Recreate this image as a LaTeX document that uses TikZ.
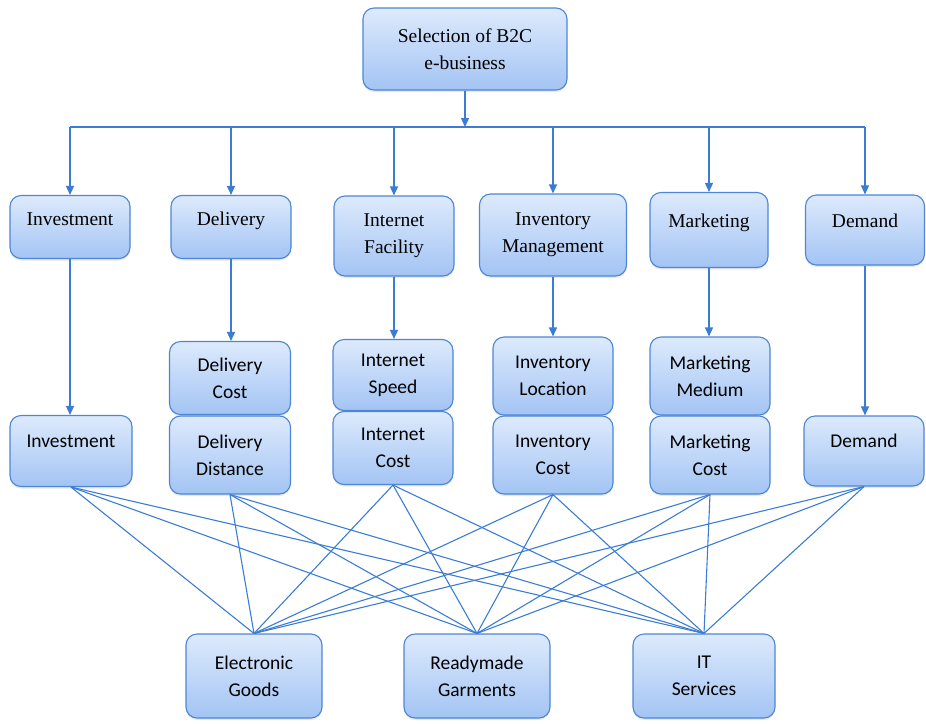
\documentclass[tikz,border=0pt]{standalone}
\usepackage{fontspec}
\setmainfont{Liberation Serif}
\newfontfamily\subfont{Carlito}
\usetikzlibrary{arrows.meta,shadows}
\definecolor{boxline}{HTML}{4D86D6}
\definecolor{boxtop}{HTML}{DDEAFC}
\definecolor{boxbot}{HTML}{A3C4F4}
\definecolor{conn}{HTML}{3B7DD3}
\tikzset{
  box/.style={draw=boxline, line width=1.1pt, rounded corners=11pt,
    top color=boxtop, bottom color=boxbot, align=center, inner sep=2pt,
    drop shadow={opacity=0.18, shadow xshift=0pt, shadow yshift=-2pt},
    font=\fontsize{19.5}{27}\selectfont},
  sbox/.style={box, font=\subfont\fontsize{19.5}{27}\selectfont},
  raised/.style={text height=13pt, text depth=#1},
  arr/.style={draw=conn, line width=1.3pt, -{Triangle[length=9pt,width=8pt]}},
  link/.style={draw=conn, line width=1.1pt},
}
\begin{document}
\begin{tikzpicture}[x=1pt,y=-1pt]
\useasboundingbox (0,0) rectangle (926,723);
% top
\node[box, minimum width=204pt, minimum height=82pt] (top) at (465,49) {Selection of B2C\\e-business};
% criteria
\node[box, raised=17pt, minimum width=120pt, minimum height=63pt] (c1) at (70,227) {Investment};
\node[box, raised=17pt, minimum width=120pt, minimum height=63pt] (c2) at (231,227) {Delivery};
\node[box, minimum width=120pt, minimum height=80pt] (c3) at (394,236) {Internet\\Facility};
\node[box, minimum width=147pt, minimum height=82pt] (c4) at (553,235) {Inventory\\Management};
\node[box, raised=19pt, minimum width=118pt, minimum height=75pt] (c5) at (709,230) {Marketing};
\node[box, raised=18pt, minimum width=119pt, minimum height=70pt] (c6) at (865,230) {Demand};
% sub criteria
\node[sbox, raised=20pt, minimum width=122pt, minimum height=71pt] (s1) at (71,451) {Investment};
\node[sbox, minimum width=121pt, minimum height=73pt] (s2a) at (230,378) {Delivery\\Cost};
\node[sbox, minimum width=121pt, minimum height=78pt] (s2) at (230,455) {Delivery\\Distance};
\node[sbox, minimum width=120pt, minimum height=71pt] (s3a) at (393,375) {Internet\\Speed};
\node[sbox, minimum width=120pt, minimum height=73pt] (s3) at (393,448) {Internet\\Cost};
\node[sbox, minimum width=120pt, minimum height=78pt] (s4a) at (553,376) {Inventory\\Location};
\node[sbox, minimum width=120pt, minimum height=78pt] (s4) at (553,455) {Inventory\\Cost};
\node[sbox, minimum width=120pt, minimum height=78pt] (s5a) at (710,376) {Marketing\\Medium};
\node[sbox, minimum width=120pt, minimum height=78pt] (s5) at (710,455) {Marketing\\Cost};
\node[sbox, raised=20pt, minimum width=120pt, minimum height=70pt] (s6) at (864,451) {Demand};
% alternatives
\node[sbox, minimum width=136pt, minimum height=84pt] (a1) at (254,676) {Electronic\\Goods};
\node[sbox, minimum width=146pt, minimum height=84pt] (a2) at (477,676) {Readymade\\Garments};
\node[sbox, minimum width=142pt, minimum height=84pt] (a3) at (704,676) {IT\\Services};
% bus
\coordinate (bus) at (465,127);
\draw[arr] (top.south) -- (top.south |- bus);
\draw[link, line width=1.3pt] (c1.north |- bus) -- (c6.north |- bus);
\foreach \c in {c1,c2,c3,c4,c5,c6}
  \draw[arr] (\c.north |- bus) -- (\c.north);
% criteria to sub criteria
\draw[arr] (c1.south) -- (c1.south |- s1.north);
\draw[arr] (c2.south) -- (c2.south |- s2a.north);
\draw[arr] (c3.south) -- (c3.south |- s3a.north);
\draw[arr] (c4.south) -- (c4.south |- s4a.north);
\draw[arr] (c5.south) -- (c5.south |- s5a.north);
\draw[arr] (c6.south) -- (c6.south |- s6.north);
% links
\foreach \s in {s1,s2,s3,s4,s5,s6}
  \foreach \a in {a1,a2,a3}
    \draw[link] (\s.south) -- (\a.north);
\end{tikzpicture}
\end{document}
